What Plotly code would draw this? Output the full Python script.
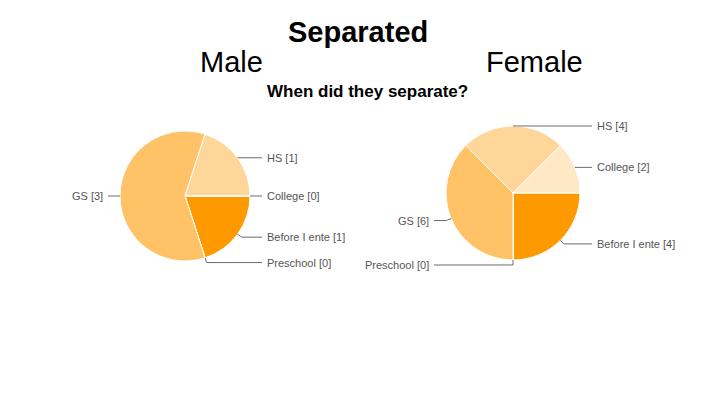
import math
import plotly.graph_objects as go

# ---- data ----
categories = ["Before I ente", "Preschool", "GS", "HS", "College"]
male_values = [1, 0, 3, 1, 0]
female_values = [4, 0, 6, 4, 2]
slice_colors = ["#FF9900", "#FFAD33", "#FFC266", "#FFD699", "#FFE8C6"]

title_main = "Separated"
title_sub = "When did they separate?"
group_titles = ["Male", "Female"]

W, H = 720, 405
pies = [
    dict(name="Male", values=male_values, cx=185, cy=196, r=65),
    dict(name="Female", values=female_values, cx=513, cy=193, r=67),
]

fig = go.Figure()
shapes = []
annotations = []
GAP = 12
for p in pies:
    cx, cy, r = p["cx"], p["cy"], p["r"]
    fig.add_trace(go.Pie(
        labels=categories, values=p["values"], sort=False,
        direction="clockwise", rotation=90,
        marker=dict(colors=slice_colors, line=dict(color="white", width=1)),
        textinfo="none", hoverinfo="label+value", showlegend=False,
        domain=dict(x=[(cx - r) / W, (cx + r) / W],
                    y=[1 - (cy + r) / H, 1 - (cy - r) / H]),
        name=p["name"],
    ))
    total = sum(p["values"])
    cum = 0
    for lab, v in zip(categories, p["values"]):
        start = 90 + cum / total * 360
        mid = (start + v / total * 180) % 360
        cum += v
        th = math.radians(mid)
        ex = cx + r * math.sin(th)
        ey = cy - r * math.cos(th)
        ext = 5 if math.cos(th) < -0.01 else 0
        kx = cx + (r + ext) * math.sin(th)
        ky = cy - (r + ext) * math.cos(th)
        right = mid < 179.9
        col = cx + r + GAP if right else cx - r - GAP
        pts = [(ex, ey), (kx, ky), (col, ky)]
        path = "M " + " L ".join(f"{x / W:.5f},{1 - y / H:.5f}" for x, y in pts)
        shapes.append(dict(type="path", xref="paper", yref="paper", path=path,
                           line=dict(color="#6b6b6b", width=1)))
        annotations.append(dict(
            xref="paper", yref="paper",
            x=(col + 3) / W if right else (col - 3) / W, y=1 - ky / H,
            xanchor="left" if right else "right", yanchor="middle",
            text=f"{lab} [{v}]", showarrow=False,
            font=dict(family="Liberation Sans, Arial", size=11, color="#555555")))

annotations += [
    dict(xref="paper", yref="paper", x=358 / W, y=1 - 32 / H, text=f"<b>{title_main}</b>",
         showarrow=False, xanchor="center", yanchor="middle",
         font=dict(family="Liberation Sans, Arial", size=29, color="black")),
    dict(xref="paper", yref="paper", x=231 / W, y=1 - 62 / H, text=group_titles[0],
         showarrow=False, xanchor="center", yanchor="middle",
         font=dict(family="Liberation Sans, Arial", size=29, color="black")),
    dict(xref="paper", yref="paper", x=534 / W, y=1 - 62 / H, text=group_titles[1],
         showarrow=False, xanchor="center", yanchor="middle",
         font=dict(family="Liberation Sans, Arial", size=29, color="black")),
    dict(xref="paper", yref="paper", x=367 / W, y=1 - 91 / H, text=f"<b>{title_sub}</b>",
         showarrow=False, xanchor="center", yanchor="middle",
         font=dict(family="Liberation Sans, Arial", size=17, color="black")),
]

fig.update_layout(width=W, height=H, margin=dict(l=0, r=0, t=0, b=0),
                  paper_bgcolor="white", plot_bgcolor="white",
                  shapes=shapes, annotations=annotations)
fig.write_html("out.html", config={"displayModeBar": False},
               post_script="document.body.style.margin='0';document.body.style.padding='0';")
